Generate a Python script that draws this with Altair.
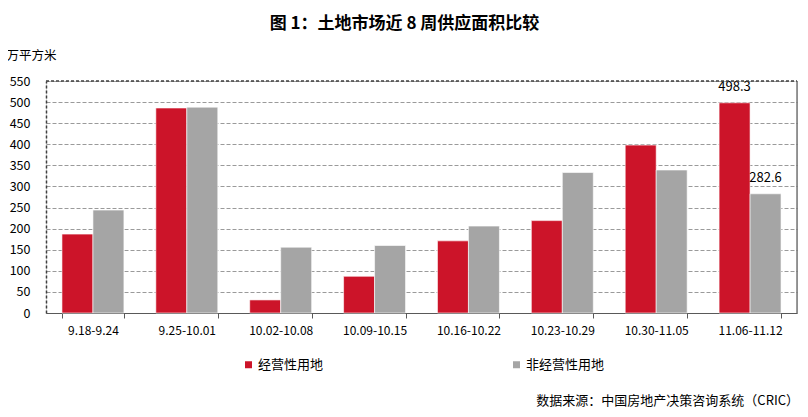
import altair as alt
import pandas as pd

weeks = ["9.18-9.24", "9.25-10.01", "10.02-10.08", "10.09-10.15",
         "10.16-10.22", "10.23-10.29", "10.30-11.05", "11.06-11.12"]
series = ["经营性用地", "非经营性用地"]
commercial = [187, 486, 31, 87, 171, 219, 398, 498.3]
noncommercial = [244, 488, 156, 160, 206, 333, 339, 282.6]
labels_last = ["498.3", "282.6"]
y_ticks = list(range(0, 551, 50))
title_text = "图 1：土地市场近 8 周供应面积比较"
unit_text = "万平方米"
source_text = "数据来源：中国房地产决策咨询系统（CRIC）"
colors = ["#CC1429", "#A5A5A5"]

rows = []
for i, w in enumerate(weeks):
    for s, vals in zip(series, [commercial, noncommercial]):
        lab = ""
        if i == len(weeks) - 1:
            lab = labels_last[series.index(s)]
        rows.append({"week": w, "series": s, "value": vals[i], "label": lab})
df = pd.DataFrame(rows)

FONT = "Noto Sans CJK SC"

x_enc = alt.X("week:N", sort=weeks, title=None,
              scale=alt.Scale(paddingInner=0.34, paddingOuter=0.17),
              axis=alt.Axis(labelAngle=0, labelFontSize=12, labelColor="#000000",
                            labelFont=FONT, labelPadding=7, tickSize=5,
                            tickBand="extent", tickColor="#595959",
                            domainColor="#595959", domainWidth=1.2, grid=False))
y_enc = alt.Y("value:Q", title=unit_text,
              scale=alt.Scale(domain=[0, 550], nice=False),
              axis=alt.Axis(values=y_ticks, labelFontSize=12.5, labelColor="#000000",
                            labelFont=FONT, labelPadding=16, ticks=False,
                            labelOverlap=False,
                            domainColor="#404040", domainDash=[3, 2], domainWidth=1.5,
                            gridColor="#9a9a9a", gridDash=[4, 2], gridWidth=1,
                            titleAngle=0, titleX=-40, titleY=-26, titleAlign="left",
                            titleBaseline="middle", titleFontWeight="normal",
                            titleFontSize=12.5, titleFont=FONT, titleColor="#000000"))
xoff = alt.XOffset("series:N", sort=series)

bars = alt.Chart(df).mark_bar(stroke="white", strokeWidth=0.6).encode(
    x=x_enc,
    xOffset=xoff,
    y=y_enc,
    color=alt.Color("series:N", sort=series,
                    scale=alt.Scale(domain=series, range=colors),
                    legend=alt.Legend(title=None, orient="none", legendX=196, legendY=277,
                                      direction="horizontal", symbolType="square",
                                      symbolSize=49, symbolStrokeWidth=0,
                                      labelFontSize=13, labelFont=FONT,
                                      labelColor="#000000", columnPadding=186,
                                      labelOffset=3, padding=0)),
)

texts = alt.Chart(df).mark_text(fontSize=13, font=FONT, color="#000000",
                                baseline="middle", dy=-16).encode(
    x=x_enc,
    xOffset=xoff,
    y=y_enc,
    text="label:N",
)

top_rule = alt.Chart(pd.DataFrame({"v": [550]})).mark_rule(
    color="#404040", strokeDash=[3, 2], strokeWidth=1.5).encode(
    x=alt.value(0), x2=alt.value(751), y=alt.value(0))
right_rule = alt.Chart(pd.DataFrame({"v": [0]})).mark_rule(
    color="#595959", strokeWidth=1.2).encode(
    x=alt.value(751), y=alt.value(0), y2=alt.value(232))

source = alt.Chart(pd.DataFrame({"t": [source_text]})).mark_text(
    align="right", baseline="alphabetic", fontSize=13, font=FONT, color="#000000").encode(
    x=alt.value(753), y=alt.value(324), text="t:N")

chart = alt.layer(bars, texts, top_rule, right_rule, source).properties(
    width=751, height=232,
    title=alt.TitleParams(title_text, anchor="middle", frame="group", fontSize=17,
                          fontWeight="bold", font=FONT, color="#000000", dx=-17,
                          offset=16),
    autosize=alt.AutoSizeParams(type="none"),
    padding={"left": 38, "top": 73, "right": 3, "bottom": 96},
).configure_view(stroke=None).configure(background="white")

chart.save("out.html", embed_options={"renderer": "svg", "actions": False})
